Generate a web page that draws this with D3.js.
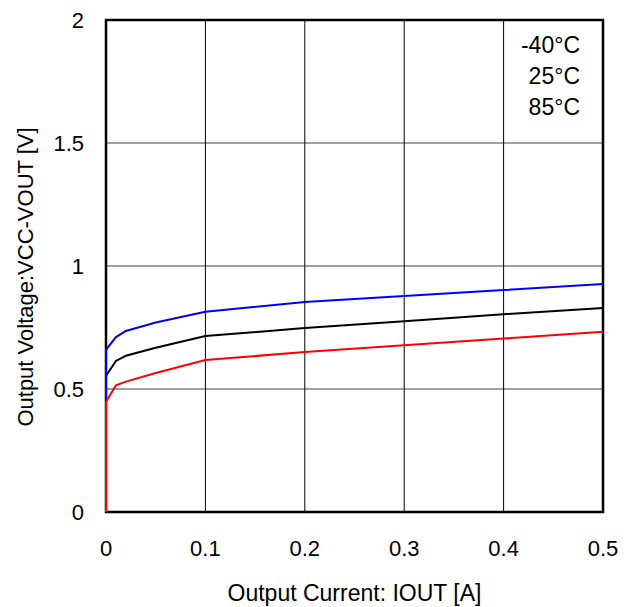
<!DOCTYPE html>
<html>
<head>
<meta charset="utf-8">
<script src="https://cdn.jsdelivr.net/npm/d3@7"></script>
<style>
  body { margin: 0; background: #fff; }
  svg text { font-family: "Liberation Sans", Arial, sans-serif; fill: #000; }
</style>
</head>
<body>
<svg id="chart" width="640" height="607"></svg>
<script>
// output current [A]
const currents = [0, 0, 0.01, 0.02, 0.05, 0.1, 0.2, 0.3, 0.4, 0.5];
// dropout voltage per temperature [V]
const vMinus40 = [0, 0.659, 0.711, 0.736, 0.77, 0.814, 0.854, 0.878, 0.902, 0.927];
const v25 = [0, 0.554, 0.614, 0.635, 0.668, 0.715, 0.748, 0.775, 0.804, 0.829];
const v85 = [0, 0.448, 0.515, 0.53, 0.565, 0.618, 0.65, 0.678, 0.705, 0.733];
const seriesNames = ['-40°C', '25°C', '85°C'];
const seriesColors = ['#0000ff', '#000000', '#ff0000'];
const xTicks = [0, 0.1, 0.2, 0.3, 0.4, 0.5];
const yTicks = [0, 0.5, 1, 1.5, 2];

const svg = d3.select('#chart');
const m = { left: 106, right: 603, top: 20, bottom: 512 };

const x = d3.scaleLinear().domain([0, 0.5]).range([m.left, m.right]);
const y = d3.scaleLinear().domain([0, 2]).range([m.bottom, m.top]);

// grid lines
svg.append('g').selectAll('line').data(yTicks.slice(1, -1)).join('line')
    .attr('x1', m.left).attr('x2', m.right)
    .attr('y1', d => y(d)).attr('y2', d => y(d))
    .attr('stroke', '#808080').attr('stroke-width', 1.5);
svg.append('g').selectAll('line').data(xTicks.slice(1, -1)).join('line')
    .attr('x1', d => x(d)).attr('x2', d => x(d))
    .attr('y1', m.top).attr('y2', m.bottom)
    .attr('stroke', '#000').attr('stroke-width', 1);

// frame
svg.append('rect')
    .attr('x', m.left).attr('y', m.top)
    .attr('width', m.right - m.left).attr('height', m.bottom - m.top)
    .attr('fill', 'none').attr('stroke', '#000').attr('stroke-width', 2.5);

// curves: black first, then blue, red on top (visible along x=0)
const allSeries = [vMinus40, v25, v85];
const drawOrder = [1, 0, 2];
const line = d3.line().x((d, i) => x(currents[i])).y(d => y(d));
drawOrder.forEach(k => {
    svg.append('path')
        .datum(allSeries[k])
        .attr('fill', 'none')
        .attr('stroke', seriesColors[k])
        .attr('stroke-width', 2)
        .attr('d', line);
});

// tick labels
svg.append('g').selectAll('text').data(xTicks).join('text')
    .attr('x', d => x(d)).attr('y', 556)
    .attr('text-anchor', 'middle').attr('font-size', 22)
    .text(d => d3.format('')(d));
svg.append('g').selectAll('text').data(yTicks).join('text')
    .attr('x', 84).attr('y', d => y(d) + 8)
    .attr('text-anchor', 'end').attr('font-size', 22)
    .text(d => d);

// axis titles
svg.append('text')
    .attr('x', x(0.25)).attr('y', 601)
    .attr('text-anchor', 'middle').attr('font-size', 23)
    .text('Output Current: IOUT [A]');
svg.append('text')
    .attr('transform', `translate(33, 277) rotate(-90)`)
    .attr('text-anchor', 'middle').attr('font-size', 22)
    .text('Output Voltage:VCC-VOUT [V]');

// legend (text only)
svg.append('g').selectAll('text').data(seriesNames).join('text')
    .attr('x', 580).attr('y', (d, i) => 53 + i * 31)
    .attr('text-anchor', 'end').attr('font-size', 23)
    .text(d => d);
</script>
</body>
</html>
